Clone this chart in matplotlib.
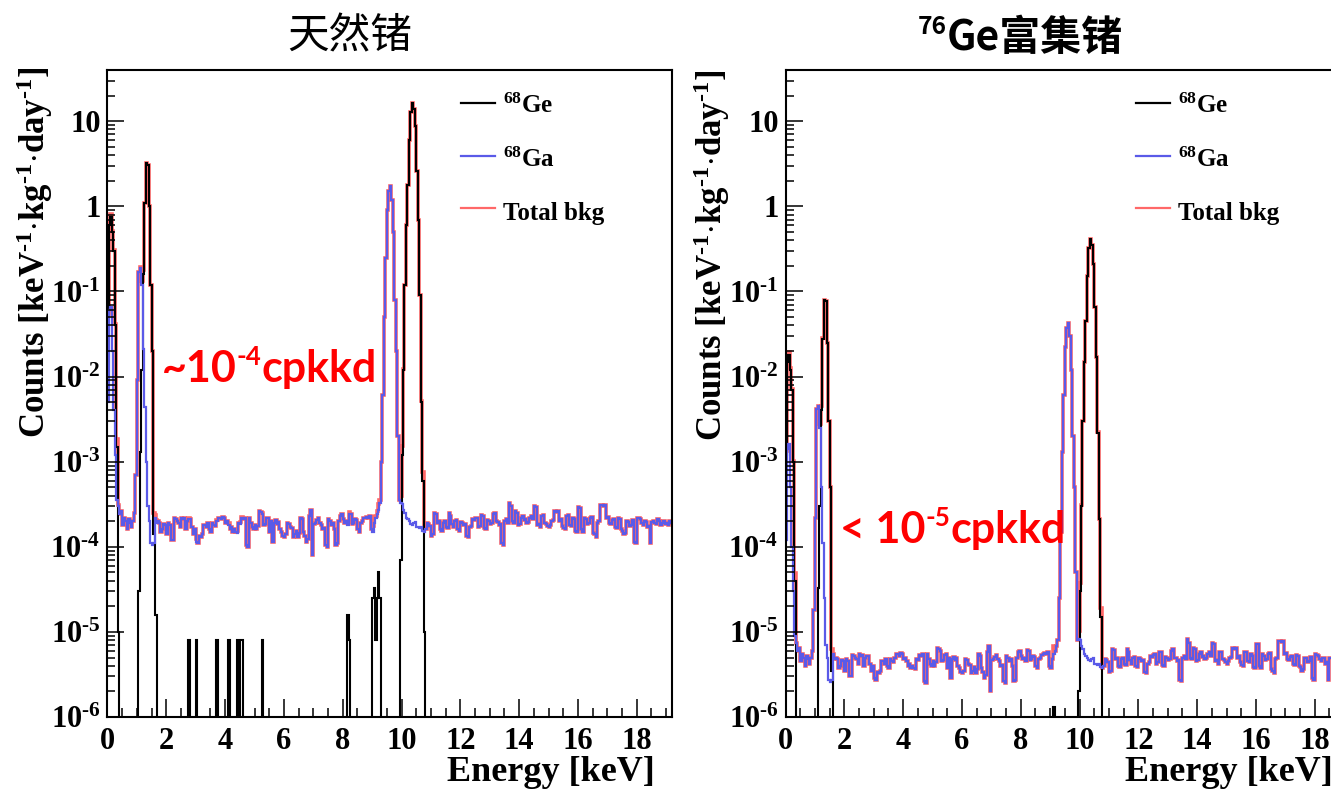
import numpy as np
import matplotlib
matplotlib.use("Agg")
import matplotlib.pyplot as plt
from matplotlib.ticker import LogLocator, MultipleLocator, NullFormatter

plt.rcParams['font.family'] = ['Liberation Serif', 'DejaVu Sans']
plt.rcParams['font.weight'] = 'bold'
plt.rcParams['mathtext.fontset'] = 'custom'
plt.rcParams['mathtext.rm'] = 'Liberation Serif:bold'
plt.rcParams['mathtext.it'] = 'Liberation Serif:bold'
plt.rcParams['mathtext.bf'] = 'Liberation Serif:bold'

# ---- data ----
bin_width = 0.05
n_bins = 384          # 0 - 19.2 keV

# 68Ga continuum, same noise pattern in both panels (relative units)
bg_noise = [
    2.5, 2.5, 2.5, 2.5, 2.5, 2.5, 2.6, 3.0, 2.4, 2.6, 1.8, 2.2, 2.0, 1.6, 2.1, 1.9, 1.7, 2.0, 2.3, 2.0,
    2.0, 2.0, 2.0, 2.0, 2.0, 2.0, 2.0, 2.0, 2.0, 2.0, 1.05, 1.1, 2.2, 1.9, 2.0, 1.9, 1.5, 1.6, 1.85, 1.8,
    1.4, 1.9, 1.8, 1.2, 1.2, 2.15, 2.1, 2.0, 1.9, 1.7, 2.2, 2.1, 2.15, 1.6, 2.0, 2.1, 2.1, 1.7, 1.4, 1.6,
    1.15, 1.1, 1.35, 1.3, 1.4, 1.8, 1.8, 1.7, 1.9, 1.6, 1.5, 1.9, 1.8, 1.75, 2.0, 2.2, 2.2, 2.1, 2.25, 2.2,
    1.9, 2.0, 1.8, 1.6, 1.7, 1.5, 1.6, 1.5, 1.45, 1.9, 1.85, 2.15, 2.1, 2.2, 1.05, 1.0, 2.2, 1.9, 1.7, 1.6,
    1.8, 1.6, 1.75, 2.6, 2.55, 2.4, 1.8, 1.85, 2.15, 2.2, 1.5, 2.0, 1.15, 1.9, 2.05, 1.85, 1.95, 1.6, 1.5, 1.35,
    1.3, 1.4, 1.9, 1.85, 1.7, 1.65, 1.3, 1.4, 1.55, 1.3, 1.45, 2.2, 2.1, 1.5, 1.35, 1.15, 1.25, 2.3, 2.7, 0.8,
    1.85, 1.9, 2.05, 2.15, 1.9, 1.8, 1.6, 1.65, 1.05, 1.0, 2.1, 2.0, 1.8, 1.9, 1.6, 1.05, 1.1, 2.0, 2.3, 2.4,
    2.1, 1.9, 2.0, 1.8, 2.45, 2.4, 1.85, 1.9, 2.1, 2.05, 1.6, 1.5, 1.9, 2.0, 2.15, 2.2, 2.25, 2.2, 2.3, 1.6,
    1.5, 1.9, 2.2, 2.4, 2.7, 3.2, 3.0, 3.0, 3.0, 3.0, 3.0, 3.0, 3.0, 3.0, 3.0, 3.0, 3.0, 3.0, 3.0, 3.3,
    3.2, 2.7, 2.5, 2.2, 2.1, 2.0, 1.85, 1.8, 1.9, 1.95, 1.7, 1.7, 1.65, 1.7, 1.55, 1.5, 1.6, 1.9, 1.85, 1.75,
    1.35, 1.4, 2.5, 2.45, 1.9, 2.0, 1.6, 1.55, 1.9, 2.0, 1.7, 1.65, 2.5, 2.3, 1.85, 1.7, 2.0, 2.05, 1.6, 1.55,
    1.95, 1.9, 1.8, 1.85, 1.35, 1.3, 1.7, 1.75, 2.1, 2.05, 2.15, 2.2, 1.7, 1.75, 2.35, 2.3, 1.65, 1.6, 2.05, 2.0,
    1.85, 1.9, 2.4, 2.5, 2.0, 1.95, 1.8, 1.85, 1.1, 1.05, 2.0, 2.1, 1.9, 3.3, 3.0, 2.0, 1.9, 2.6, 2.5, 1.8,
    1.85, 2.2, 2.3, 2.05, 2.1, 1.9, 1.95, 2.2, 2.3, 2.1, 3.0, 2.9, 1.8, 1.85, 1.7, 2.3, 2.35, 1.9, 1.85, 1.75,
    1.7, 1.8, 2.0, 2.05, 2.6, 2.55, 2.6, 2.0, 2.1, 1.75, 1.65, 1.6, 2.3, 2.35, 1.8, 1.75, 2.2, 2.1, 1.55, 1.5,
    2.9, 2.85, 1.6, 1.5, 2.2, 2.1, 1.85, 1.9, 2.2, 2.25, 1.45, 1.4, 1.3, 1.9, 2.0, 3.1, 3.1, 3.05, 3.1, 2.2,
    2.25, 1.9, 1.85, 2.05, 2.1, 1.7, 1.65, 2.15, 2.1, 1.6, 1.55, 1.4, 1.45, 2.0, 1.95, 1.75, 1.8, 2.05, 1.15, 1.1,
    2.2, 2.15, 2.1, 1.9, 1.8, 2.0, 1.95, 1.7, 1.75, 1.1, 1.95, 2.0, 1.9, 1.85, 2.1, 2.0, 1.8, 1.9, 2.0, 1.85,
    1.9, 1.8, 2.0, 1.9,
]
bg_unit_nat = 1e-4
bg_unit_enr = 2.5e-6

# peaks: (energy of first bin, bin contents)
ge_nat_peaks = [
    (0.00, [0.05, 0.6, 0.75, 0.5, 0.3, 0.04, 1.5e-3, 1e-5]),
    (1.05, [3e-5, 1.3e-3, 0.012, 0.16, 1.1, 3.2, 3.1, 1.0, 0.12, 0.02, 1.4e-4]),
    (9.95, [7e-5, 1.2e-3, 0.012, 0.12, 0.6, 1.8, 6, 13, 16.5, 14, 8.7, 2.6, 0.7, 0.09, 5e-3, 6e-4, 1e-5]),
]
ge_nat_single = [(1.60, 1.6e-5), (1.65, 1.6e-5), (2.75, 8e-6), (3.00, 8e-6), (3.70, 8e-6),
                 (4.10, 8e-6), (4.40, 8e-6), (4.50, 8e-6), (4.55, 8e-6), (5.25, 8e-6),
                 (8.15, 1.6e-5), (8.20, 8e-6), (9.00, 2.5e-5), (9.05, 3.3e-5), (9.10, 8e-6),
                 (9.15, 2.5e-5), (9.20, 5e-5), (9.25, 2.5e-5)]
ga_nat_peaks = [
    (0.00, [5e-3, 0.06, 0.065, 0.02, 4e-3, 1.2e-3, 3.5e-4]),
    (0.90, [2.5e-4, 7e-4, 9e-3, 0.17, 0.19, 0.12, 0.021, 4.4e-3, 1e-3, 3e-4, 2e-4, 1.1e-4, 1.05e-4]),
    (9.25, [3.3e-4, 1e-3, 6e-3, 0.05, 0.25, 0.9, 1.5, 1.75, 1.2, 0.5, 0.08, 0.02, 2e-3, 3.5e-4]),
]

ge_enr_peaks = [
    (0.00, [1.2e-3, 0.015, 0.018, 0.012, 7e-3, 1e-3, 4e-5]),
    (1.05, [7.5e-7, 3.3e-5, 3e-4, 4e-3, 0.028, 0.08, 0.078, 0.025, 3e-3, 5e-4, 3.5e-6]),
    (9.95, [2e-6, 3e-5, 3e-4, 3e-3, 0.015, 0.045, 0.15, 0.32, 0.41, 0.35, 0.21, 0.065, 0.017,
            2.2e-3, 2.1e-4, 1.5e-5]),
]
ge_enr_single = [(9.10, 1.3e-6)]
ga_enr_peaks = [
    (0.00, [1.2e-4, 1.4e-3, 1.6e-3, 5e-4, 1e-4, 3e-5, 9e-6]),
    (0.90, [6e-6, 1.8e-5, 2.2e-4, 4.2e-3, 4.5e-3, 2.5e-3, 5e-4, 1.1e-4, 2.5e-5, 7e-6, 5e-6,
            2.7e-6, 2.6e-6]),
    (9.25, [8e-6, 2.5e-5, 1.5e-4, 1.3e-3, 6e-3, 0.022, 0.037, 0.043, 0.03, 0.012, 2e-3, 5e-4,
            5e-5, 8e-6]),
]

y_ticks = [1e-6, 1e-5, 1e-4, 1e-3, 1e-2, 1e-1, 1, 10]
y_labels = [r'$10^{\text{-6}}$', r'$10^{\text{-5}}$', r'$10^{\text{-4}}$', r'$10^{\text{-3}}$',
            r'$10^{\text{-2}}$', r'$10^{\text{-1}}$', '1', '10']
x_ticks = [0, 2, 4, 6, 8, 10, 12, 14, 16, 18]


def fill(base, peaks, single=()):
    h = np.array(base, dtype=float)
    for e0, vals in peaks:
        i0 = int(round(e0 / bin_width))
        h[i0:i0 + len(vals)] = vals
    for e0, v in single:
        h[int(round(e0 / bin_width))] = v
    return h


edges = np.arange(n_bins + 1) * bin_width

ga_nat = fill(np.array(bg_noise) * bg_unit_nat, ga_nat_peaks)
ge_nat = fill(np.zeros(n_bins), ge_nat_peaks, ge_nat_single)
ga_enr = fill(np.array(bg_noise) * bg_unit_enr, ga_enr_peaks)
ge_enr = fill(np.zeros(n_bins), ge_enr_peaks, ge_enr_single)

W, H = 1331, 790
fig = plt.figure(figsize=(W / 100, H / 100), dpi=100)
renderer = fig.canvas.get_renderer()

BLACK = '#000000'
BLUE = '#5a5ae8'
RED = '#ff6868'


def panel(x0px, ge, ga, leg_x):
    ax = fig.add_axes([x0px / W, 1 - 717 / H, 564.5 / W, 647 / H])
    tot = ge + ga
    low = 1e-8
    ax.stairs(np.where(tot > 0, tot, low), edges, color=RED, lw=2.6, baseline=None)
    ax.stairs(np.where(ge > 0, ge, low), edges, color=BLACK, lw=1.5, baseline=None)
    ax.stairs(np.where(ga > 0, ga, low), edges, color=BLUE, lw=1.6, baseline=None)
    ax.set_yscale('log')
    ax.set_ylim(1e-6, 40)
    ax.set_xlim(0, 19.2)
    ax.set_yticks(y_ticks)
    ax.set_yticklabels(y_labels)
    ax.yaxis.set_minor_locator(LogLocator(base=10, subs=np.arange(2, 10), numticks=20))
    ax.yaxis.set_minor_formatter(NullFormatter())
    ax.set_xticks(x_ticks)
    ax.set_xticklabels([str(t) for t in x_ticks])
    ax.xaxis.set_minor_locator(MultipleLocator(0.5))
    ax.tick_params(axis='both', which='both', direction='in', top=False, right=False,
                   labelsize=22, width=1.1)
    ax.tick_params(axis='y', which='major', length=12, pad=5)
    ax.tick_params(axis='y', which='minor', length=6)
    ax.tick_params(axis='x', which='major', length=13, pad=7)
    ax.tick_params(axis='x', which='minor', length=6.5)
    for s in ax.spines.values():
        s.set_linewidth(1.5)
    # legend
    for yl, yb, col, lab in [(103, 113, BLACK, r'$^{68}$Ge'), (156, 167, BLUE, r'$^{68}$Ga'),
                             (208, 220, RED, 'Total bkg')]:
        fig.add_artist(plt.Line2D([leg_x / W, (leg_x + 34) / W], [1 - yl / H, 1 - yl / H],
                                  color=col, lw=1.6))
        fig.text((leg_x + 42) / W, 1 - yb / H, lab, fontsize=18, ha='left', va='baseline')
    return ax


def sup_text(xpx, ypx, parts, size, **kw):
    # parts: list of (text, is_superscript); x, y = left end of the baseline in pixels
    x = xpx
    for s, sup in parts:
        fs = size * 0.6 if sup else size
        dy = size * 0.55 if sup else 0
        t = fig.text(x / W, 1 - (ypx - dy) / H, s, fontsize=fs, ha='left', va='baseline', **kw)
        x = t.get_window_extent(renderer).x1
    return x


ax1 = panel(107.5, ge_nat, ga_nat, 461)
ax2 = panel(785.5, ge_enr, ga_enr, 1136)

ylab = r'Counts [keV$^{\text{-1}}$$\cdot$kg$^{\text{-1}}$$\cdot$day$^{\text{-1}}$]'
fig.text(35 / W, 1 - 252 / H, ylab, rotation=90, fontsize=25, ha='center', va='center')
fig.text(712 / W, 1 - 255 / H, ylab, rotation=90, fontsize=25, ha='center', va='center')
fig.text(655 / W, 1 - 781 / H, 'Energy [keV]', fontsize=26, ha='right', va='baseline')
fig.text(1333 / W, 1 - 781 / H, 'Energy [keV]', fontsize=26, ha='right', va='baseline')

fig.text(350 / W, 1 - 37 / H, '天然锗', fontsize=30, ha='center', va='center',
         family=['Noto Sans CJK SC'], fontweight='normal')
sup_text(918, 50, [('76', True), ('Ge富集锗', False)], 29.5,
         family=['Noto Sans CJK SC'], fontweight='bold')

red = dict(color='#ff0000', family=['Lato', 'DejaVu Sans'], fontweight='bold')
sup_text(162, 382, [('~10', False), ('-4', True), ('cpkkd', False)], 31, **red)
sup_text(840, 543, [('< 10', False), ('-5', True), ('cpkkd', False)], 31, **red)

fig.savefig('out.png', dpi=100)
